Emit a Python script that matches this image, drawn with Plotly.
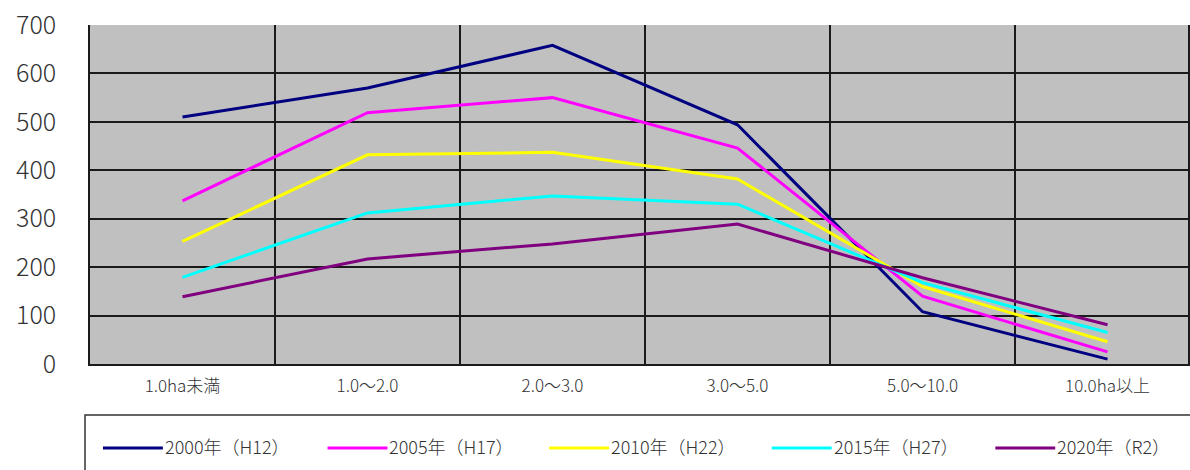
import plotly.graph_objects as go

# Farm size classes (category axis)
categories = ["1.0ha未満", "1.0～2.0", "2.0～3.0", "3.0～5.0", "5.0～10.0", "10.0ha以上"]

# Number of farms per size class, by census year
series_names = ["2000年（H12）", "2005年（H17）", "2010年（H22）", "2015年（H27）", "2020年（R2）"]
v2000 = [510, 570, 658, 494, 108, 10]
v2005 = [337, 519, 550, 446, 140, 25]
v2010 = [253, 432, 437, 382, 160, 46]
v2015 = [179, 312, 347, 330, 168, 65]
v2020 = [139, 217, 248, 289, 178, 81]
series_values = [v2000, v2005, v2010, v2015, v2020]
series_colors = ["#000080", "#FF00FF", "#FFFF00", "#00FFFF", "#800080"]

y_ticks = [0, 100, 200, 300, 400, 500, 600, 700]

W, H = 1190, 470
L, R, T, B = 90, 0, 25, 106
PLOT_W = W - L - R
PLOT_H = H - T - B
FONT = "Noto Sans CJK JP"
TEXT_COLOR = "#333333"


def px_x(px):
    return (px - L) / PLOT_W


def px_y(py):
    return (H - B - py) / PLOT_H


fig = go.Figure()
for name, vals, col in zip(series_names, series_values, series_colors):
    fig.add_trace(go.Scatter(
        x=categories, y=vals, name=name, mode="lines",
        line=dict(color=col, width=3), showlegend=False,
    ))

# Legend drawn as a framed row below the plot
shapes = [dict(
    type="rect", xref="paper", yref="paper",
    x0=px_x(85), x1=px_x(1210), y0=px_y(415), y1=px_y(490),
    line=dict(color="#333333", width=1.5), fillcolor="rgba(0,0,0,0)",
)]
annotations = []
legend_starts = [103, 328, 550, 773, 997]
for name, col, x0 in zip(series_names, series_colors, legend_starts):
    shapes.append(dict(
        type="line", xref="paper", yref="paper",
        x0=px_x(x0), x1=px_x(x0 + 60), y0=px_y(448), y1=px_y(448),
        line=dict(color=col, width=3),
    ))
    annotations.append(dict(
        xref="paper", yref="paper", x=px_x(x0 + 60), y=px_y(446),
        xanchor="left", yanchor="middle", showarrow=False, text=name,
        font=dict(family=FONT, size=18, color=TEXT_COLOR, weight=300),
    ))

fig.update_layout(
    width=W, height=H,
    margin=dict(l=L, r=R, t=T, b=B, pad=0),
    paper_bgcolor="white", plot_bgcolor="#C0C0C0",
    shapes=shapes, annotations=annotations,
    showlegend=False,
    xaxis=dict(
        type="category", range=[-0.5, 5.435], tickson="boundaries",
        showgrid=True, gridcolor="#1a1a1a", gridwidth=1.5,
        ticks="", showline=True, linecolor="#1a1a1a", linewidth=1.5,
        tickfont=dict(family=FONT, size=17, color=TEXT_COLOR, weight=300),
        ticklabelstandoff=6, zeroline=False, fixedrange=True,
    ),
    yaxis=dict(
        range=[0, 700], tickvals=y_ticks,
        showgrid=True, gridcolor="#1a1a1a", gridwidth=1.5,
        ticks="", showline=True, linecolor="#1a1a1a", linewidth=1.5,
        mirror=True, zeroline=False,
        tickfont=dict(family=FONT, size=25, color=TEXT_COLOR, weight=300),
        ticklabelstandoff=27, fixedrange=True,
    ),
)

fig.write_html("out.html")
